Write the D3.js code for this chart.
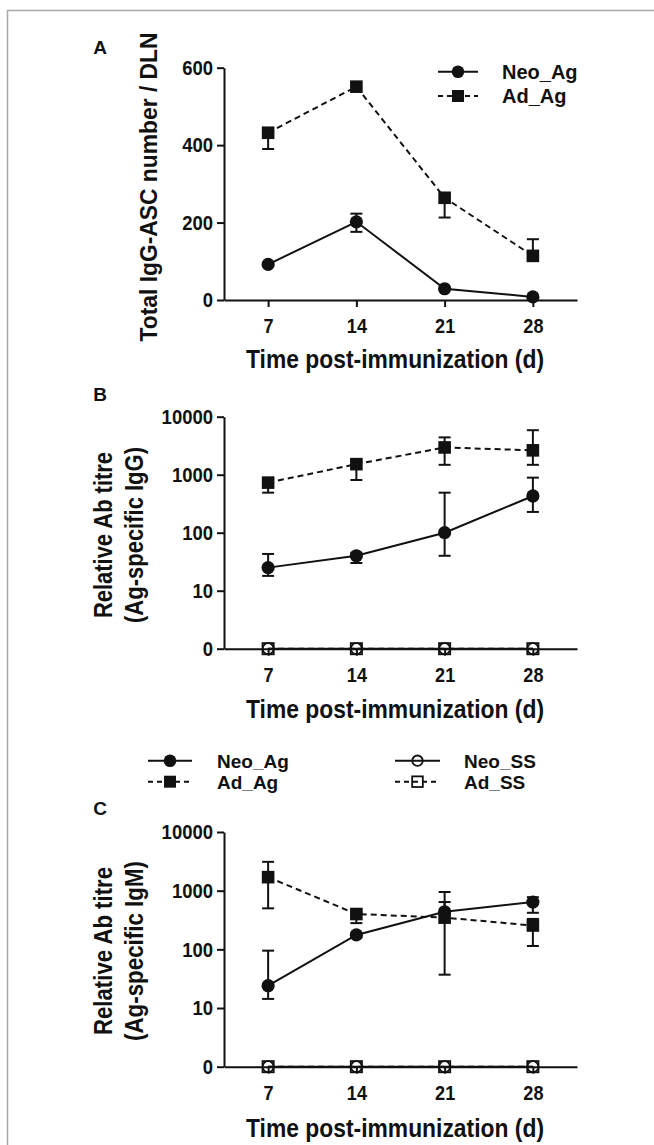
<!DOCTYPE html>
<html><head><meta charset="utf-8">
<script src="https://cdn.jsdelivr.net/npm/d3@7"></script>
<style>
body{margin:0;background:#fff}
svg{display:block}
text{font-family:"Liberation Sans",Arial,Helvetica,sans-serif;font-weight:bold;fill:#111}
</style>
</head><body>
<svg id="c" width="654" height="1145"></svg>
<script>
// ---------- data ----------
const days = [7, 14, 21, 28];
const xTickLabels = ["7", "14", "21", "28"];

// Panel A: total IgG-ASC number / DLN
const aYTicks = [0, 200, 400, 600];
const aNeoAg   = [92, 202, 29, 8];
const aNeoAgHi = [null, 223, null, null];
const aNeoAgLo = [null, 176, null, null];
const aAdAg    = [432, 551, 264, 114];
const aAdAgHi  = [null, null, null, 157];
const aAdAgLo  = [390, null, 213, null];

// Panel B: Ag-specific IgG titre (0 plotted on the "0" tick)
const logTicks = [1, 10, 100, 1000, 10000];
const logTickLabels = ["0", "10", "100", "1000", "10000"];
const bNeoAg   = [25, 40, 100, 430];
const bNeoAgHi = [43, 45, 490, 890];
const bNeoAgLo = [18, 30, 40, 228];
const bAdAg    = [730, 1520, 2950, 2630];
const bAdAgHi  = [850, 1700, 4400, 5850];
const bAdAgLo  = [490, 810, 1480, 1480];
const bNeoSS   = [0, 0, 0, 0];
const bAdSS    = [0, 0, 0, 0];

// Panel C: Ag-specific IgM titre
const cNeoAg   = [24, 176, 437, 640];
const cNeoAgHi = [95, 190, 640, 775];
const cNeoAgLo = [14.3, 160, 400, 420];
const cAdAg    = [1700, 400, 347, 255];
const cAdAgHi  = [3100, 430, 950, 330];
const cAdAgLo  = [500, 280, 37, 114];
const cNeoSS   = [0, 0, 0, 0];
const cAdSS    = [0, 0, 0, 0];

const seriesNames = ["Neo_Ag", "Ad_Ag", "Neo_SS", "Ad_SS"];

// ---------- drawing ----------
const svg = d3.select("#c");
const INK = "#111";
const DASH = "6,4";

// frame
svg.append("path").attr("d", "M7.5,1145V10.5H654").attr("fill", "none")
  .attr("stroke", "#a8a8a8").attr("stroke-width", 1.5);

const x = d3.scaleLinear().domain([3.5, 31.5]).range([224, 577]);

function condense(sel, f) {
  sel.each(function () {
    const w = this.getComputedTextLength();
    this.setAttribute("textLength", w * f);
    this.setAttribute("lengthAdjust", "spacingAndGlyphs");
  });
}
function fitWidth(sel, w) {
  sel.attr("textLength", w).attr("lengthAdjust", "spacingAndGlyphs");
}

function drawAxes(y, yTicks, yLabels) {
  const g = svg.append("g");
  const yr = y.range();
  const xa = g.append("g").attr("transform", `translate(0,${yr[0]})`)
    .call(d3.axisBottom(x).tickValues(days).tickFormat((d, i) => xTickLabels[i])
      .tickSize(7).tickSizeOuter(0).tickPadding(11));
  const ya = g.append("g").attr("transform", `translate(${x.range()[0]},0)`)
    .call(d3.axisLeft(y).tickValues(yTicks).tickFormat((d, i) => yLabels[i])
      .tickSize(7).tickSizeOuter(0).tickPadding(4));
  [xa, ya].forEach(a => {
    a.select(".domain").attr("stroke", INK).attr("stroke-width", 2);
    a.selectAll(".tick line").attr("stroke", INK).attr("stroke-width", 2);
    a.selectAll(".tick text").attr("fill", INK).style("font-size", "21px")
      .style("font-family", '"Liberation Sans",Arial,sans-serif').style("font-weight", "bold");
  });
  condense(xa.selectAll(".tick text"), 0.86);
  condense(ya.selectAll(".tick text"), 0.88);
}

function drawSeries(y, vals, hi, lo, opts) {
  const g = svg.append("g");
  const yy = v => y(opts.log ? Math.max(v, 1) : v);
  const line = d3.line().x((d, i) => x(days[i])).y(d => yy(d));
  g.append("path").attr("d", line(vals)).attr("fill", "none").attr("stroke", INK)
    .attr("stroke-width", 2).attr("stroke-dasharray", opts.dashed ? DASH : null);
  // error bars
  [hi, lo].forEach(arr => {
    if (!arr) return;
    arr.forEach((e, i) => {
      if (e == null) return;
      const cx = x(days[i]);
      g.append("line").attr("x1", cx).attr("x2", cx).attr("y1", yy(vals[i])).attr("y2", yy(e))
        .attr("stroke", INK).attr("stroke-width", 2);
      g.append("line").attr("x1", cx - 6).attr("x2", cx + 6).attr("y1", yy(e)).attr("y2", yy(e))
        .attr("stroke", INK).attr("stroke-width", 2);
    });
  });
  vals.forEach((v, i) => marker(g, x(days[i]), yy(v), opts.shape, opts.open));
}

function marker(g, cx, cy, shape, open, s) {
  const k = s || 1;
  if (shape === "circle") {
    g.append("circle").attr("cx", cx).attr("cy", cy).attr("r", (open ? 5.5 : 6.6) * k)
      .attr("fill", open ? "none" : INK).attr("stroke", INK).attr("stroke-width", open ? 1.8 : 0);
  } else {
    const h = (open ? 5.6 : 6.3) * k;
    g.append("rect").attr("x", cx - h).attr("y", cy - h).attr("width", 2 * h).attr("height", 2 * h)
      .attr("fill", open ? "none" : INK).attr("stroke", INK).attr("stroke-width", open ? 1.8 : 0);
  }
}

function legendItem(x1, x2, cy, dashed, shape, open, label, tx, fs) {
  const g = svg.append("g");
  g.append("line").attr("x1", x1).attr("x2", x2).attr("y1", cy).attr("y2", cy)
    .attr("stroke", INK).attr("stroke-width", 2).attr("stroke-dasharray", dashed ? "5,4" : null);
  marker(g, (x1 + x2) / 2, cy, shape, open, 0.95);
  g.append("text").attr("x", tx).attr("y", cy + fs * 0.36).style("font-size", fs + "px").text(label);
}

function xTitle(baseline) {
  svg.append("text").attr("x", 395).attr("y", baseline).attr("text-anchor", "middle")
    .style("font-size", "26px").text("Time post-immunization (d)").call(fitWidth, 298);
}
function yTitle(bx, cy, txt, w, fs) {
  svg.append("text").attr("transform", `translate(${bx},${cy}) rotate(-90)`)
    .attr("text-anchor", "middle").style("font-size", (fs || 26) + "px").text(txt).call(fitWidth, w);
}
function panelLetter(cx, baseline, t) {
  svg.append("text").attr("x", cx).attr("y", baseline).attr("text-anchor", "middle")
    .style("font-size", "19px").text(t);
}

// ----- Panel A -----
const yA = d3.scaleLinear().domain([0, 600]).range([300, 67.7]);
drawAxes(yA, aYTicks, aYTicks.map(String));
drawSeries(yA, aAdAg, aAdAgHi, aAdAgLo, {dashed: true, shape: "square"});
drawSeries(yA, aNeoAg, aNeoAgHi, aNeoAgLo, {dashed: false, shape: "circle"});
panelLetter(100, 53.5, "A");
yTitle(157, 187, "Total IgG-ASC number  / DLN", 309, 24);
xTitle(368);
legendItem(438, 478, 71.7, false, "circle", false, seriesNames[0], 502, 20);
legendItem(438, 478, 96, true, "square", false, seriesNames[1], 502, 20);

// ----- Panel B -----
const yB = d3.scaleLog().domain([1, 10000]).range([648.7, 416.7]);
drawAxes(yB, logTicks, logTickLabels);
drawSeries(yB, bAdSS, null, null, {dashed: true, shape: "square", open: true, log: true});
drawSeries(yB, bNeoSS, null, null, {dashed: false, shape: "circle", open: true, log: true});
drawSeries(yB, bAdAg, bAdAgHi, bAdAgLo, {dashed: true, shape: "square", log: true});
drawSeries(yB, bNeoAg, bNeoAgHi, bNeoAgLo, {dashed: false, shape: "circle", log: true});
panelLetter(100, 401, "B");
yTitle(111.5, 535, "Relative Ab titre", 166);
yTitle(143, 535, "(Ag-specific IgG)", 176);
xTitle(718);

// ----- shared legend -----
legendItem(148, 192, 760.7, false, "circle", false, seriesNames[0], 217, 19);
legendItem(148, 192, 781.7, true, "square", false, seriesNames[1], 217, 19);
legendItem(395, 440, 760.7, false, "circle", true, seriesNames[2], 464, 19);
legendItem(395, 440, 781.7, true, "square", true, seriesNames[3], 464, 19);

// ----- Panel C -----
const yC = d3.scaleLog().domain([1, 10000]).range([1066.7, 832]);
drawAxes(yC, logTicks, logTickLabels);
drawSeries(yC, cAdSS, null, null, {dashed: true, shape: "square", open: true, log: true});
drawSeries(yC, cNeoSS, null, null, {dashed: false, shape: "circle", open: true, log: true});
drawSeries(yC, cAdAg, cAdAgHi, cAdAgLo, {dashed: true, shape: "square", log: true});
drawSeries(yC, cNeoAg, cNeoAgHi, cNeoAgLo, {dashed: false, shape: "circle", log: true});
panelLetter(100, 815, "C");
yTitle(111.5, 951, "Relative Ab titre", 168);
yTitle(143, 951, "(Ag-specific IgM)", 180);
xTitle(1137);
</script>
</body></html>
